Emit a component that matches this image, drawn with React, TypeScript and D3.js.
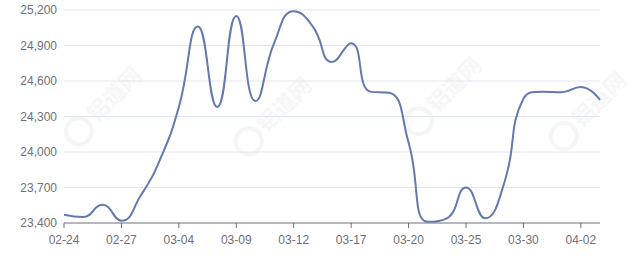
import React from "react";
import * as d3 from "d3";

const dates = [
  "02-24", "02-25", "02-26", "02-27", "02-28", "03-03", "03-04", "03-05", "03-06", "03-09",
  "03-10", "03-11", "03-12", "03-13", "03-14", "03-17", "03-18", "03-19", "03-20", "03-21",
  "03-24", "03-25", "03-26", "03-27", "03-30", "03-31", "04-01", "04-02", "04-03",
];
const prices = [
  23470, 23450, 23555, 23420, 23630, 23930, 24380, 25060, 24380, 25150,
  24430, 24930, 25190, 25060, 24760, 24920, 24510, 24500, 24080, 23410,
  23440, 23700, 23440, 23740, 24450, 24510, 24505, 24550, 24440,
];
const yTicks = [23400, 23700, 24000, 24300, 24600, 24900, 25200];
const labelEvery = 3;

const W = 640, H = 270;
const M = { left: 64, right: 40, top: 10, bottom: 47 };

// ECharts-like smooth path (smooth = 0.5) built from scaled points
function smoothPath(pts: [number, number][], smooth = 0.5): string {
  const p = d3.path();
  const n = pts.length;
  const cpsBefore: [number, number][] = [];
  const cpsAfter: [number, number][] = [];
  for (let i = 0; i < n; i++) {
    const [x, y] = pts[i];
    if (i === 0 || i === n - 1) {
      cpsBefore[i] = [x, y];
      cpsAfter[i] = [x, y];
      continue;
    }
    const [px, py] = pts[i - 1];
    const [nx, ny] = pts[i + 1];
    const vx = nx - px, vy = ny - py;
    const l0 = Math.hypot(x - px, y - py);
    const l1 = Math.hypot(nx - x, ny - y);
    const r = l1 / (l0 + l1);
    let ax = x + vx * smooth * r;
    let ay = y + vy * smooth * r;
    ax = Math.min(ax, Math.max(nx, x)); ax = Math.max(ax, Math.min(nx, x));
    ay = Math.min(ay, Math.max(ny, y)); ay = Math.max(ay, Math.min(ny, y));
    let wx = ax - x, wy = ay - y;
    let bx = x - wx * l0 / l1;
    let by = y - wy * l0 / l1;
    bx = Math.min(bx, Math.max(px, x)); bx = Math.max(bx, Math.min(px, x));
    by = Math.min(by, Math.max(py, y)); by = Math.max(by, Math.min(py, y));
    wx = x - bx; wy = y - by;
    ax = x + wx * l1 / l0;
    ay = y + wy * l1 / l0;
    cpsBefore[i] = [bx, by];
    cpsAfter[i] = [ax, ay];
  }
  p.moveTo(pts[0][0], pts[0][1]);
  for (let i = 1; i < n; i++) {
    const a = cpsAfter[i - 1], b = cpsBefore[i];
    p.bezierCurveTo(a[0], a[1], b[0], b[1], pts[i][0], pts[i][1]);
  }
  return p.toString();
}

export default function App() {
  const x = d3.scalePoint<string>().domain(dates).range([M.left, W - M.right]);
  const y = d3.scaleLinear().domain([23400, 25200]).range([H - M.bottom, M.top]);
  const pts: [number, number][] = dates.map((d, i) => [x(d) as number, y(prices[i])]);
  const font = "'Liberation Sans', Arial, sans-serif";
  const watermarks = [[100, 110], [270, 120], [440, 100], [585, 115]];
  return (
    <svg width={W} height={H} style={{ position: "absolute", left: 0, top: 0, background: "#fff" }}>
      <g>
        {watermarks.map(([wx, wy], i) => (
          <g key={i} transform={`translate(${wx},${wy}) rotate(-45)`} opacity={0.5}>
            <circle cx={-30} cy={0} r={13} fill="none" stroke="#ececec" strokeWidth={4} />
            <text x={-12} y={7} fontSize={22} fontWeight="bold" fill="#efefef"
              fontFamily="'Noto Sans CJK SC', sans-serif">铝道网</text>
          </g>
        ))}
      </g>
      {yTicks.map((t) => (
        <g key={t}>
          {t !== 23400 && (
            <line x1={M.left} x2={W - M.right} y1={y(t)} y2={y(t)} stroke="#E0E6F1" strokeWidth={1} />
          )}
          <text x={M.left - 7} y={y(t)} dy="0.35em" textAnchor="end" fontSize={12}
            fill="#6E7079" fontFamily={font}>{d3.format(",")(t)}</text>
        </g>
      ))}
      <line x1={M.left} x2={W - M.right} y1={y(23400)} y2={y(23400)} stroke="#6E7079" strokeWidth={1} />
      {dates.map((d, i) =>
        i % labelEvery === 0 ? (
          <g key={d}>
            <line x1={x(d)} x2={x(d)} y1={y(23400)} y2={y(23400) + 5} stroke="#6E7079" />
            <text x={x(d)} y={y(23400) + 17} dy="0.35em" textAnchor="middle" fontSize={12}
              fill="#6E7079" fontFamily={font}>{d}</text>
          </g>
        ) : null
      )}
      <path d={smoothPath(pts)} fill="none" stroke="#6479AE" strokeWidth={2} strokeLinejoin="round" />
    </svg>
  );
}
